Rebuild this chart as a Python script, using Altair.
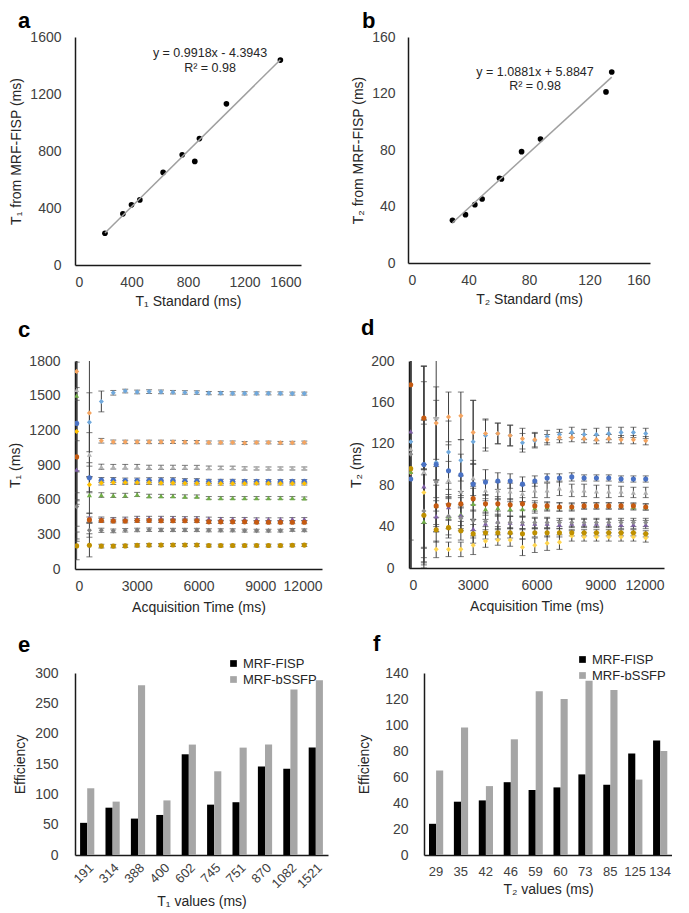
import altair as alt
import pandas as pd

FONT = "Liberation Sans"
EB = "#404040"

# ---------------- Panel a ----------------
a_std = [212, 339, 400, 459, 624, 759, 848, 881, 1072, 1454]
a_meas = [223, 359, 422, 457, 650, 774, 727, 887, 1131, 1438]
a_eq = ["y = 0.9918x - 4.3943", "R² = 0.98"]
a_eq_x = [956, 956]
a_eq_y = [1488, 1382]

# ---------------- Panel b ----------------
b_std = [29.4, 38.0, 44.2, 49.0, 60.5, 61.8, 75.1, 87.6, 130.9, 134.7]
b_meas = [30.2, 34.2, 41.3, 45.3, 60.0, 59.5, 78.8, 87.8, 121.1, 135.2]
b_eq = ["y = 1.0881x + 5.8847", "R² = 0.98"]
b_eq_x = [84, 84]
b_eq_y = [135, 125]

# ---------------- Panels c, d ----------------
TIMES = [80, 700, 1280, 1860, 2440, 3020, 3600, 4180, 4760, 5340,
         5920, 6500, 7080, 7660, 8240, 8820, 9400, 9980, 10560, 11140]
SERIES = ["s1", "s2", "s3", "s4", "s5", "s6", "s7", "s8", "s9", "s10"]
COLORS = ["#6FA8DC", "#F4A460", "#B0B0B0", "#4A72C4", "#FFC000",
          "#70AD47", "#7E5FA6", "#C55A11", "#7F7F7F", "#BF9000"]
SHAPES = ["diamond", "diamond", "triangle-up", "circle", "diamond",
          "triangle-up", "triangle-up", "circle", "diamond", "circle"]

c_vals = [
    [1260, 1270, 1450, 1525, 1540, 1532, 1535, 1533, 1530, 1528, 1527, 1522, 1522, 1520, 1520, 1520, 1520, 1520, 1518, 1518],
    [1710, 1350, 1110, 1100, 1100, 1100, 1100, 1100, 1100, 1098, 1098, 1095, 1095, 1095, 1090, 1095, 1095, 1092, 1093, 1095],
    [1550, 990, 885, 885, 885, 885, 880, 880, 880, 880, 880, 875, 875, 875, 870, 870, 870, 870, 870, 870],
    [1260, 790, 770, 770, 765, 765, 768, 768, 768, 762, 762, 758, 758, 758, 758, 758, 758, 758, 758, 758],
    [1190, 730, 745, 748, 748, 748, 748, 745, 745, 742, 742, 740, 740, 740, 740, 742, 742, 740, 740, 740],
    [1500, 640, 640, 637, 637, 645, 632, 632, 632, 628, 628, 615, 615, 615, 615, 615, 615, 615, 615, 612],
    [860, 445, 432, 430, 433, 438, 440, 440, 440, 438, 438, 435, 432, 432, 432, 430, 430, 430, 432, 432],
    [970, 425, 420, 415, 415, 420, 420, 418, 418, 418, 418, 408, 408, 408, 408, 405, 405, 405, 405, 405],
    [540, 335, 335, 330, 335, 338, 340, 338, 338, 338, 338, 335, 335, 335, 332, 332, 332, 332, 338, 335],
    [200, 205, 198, 198, 200, 205, 207, 207, 208, 208, 208, 203, 203, 203, 203, 203, 203, 203, 205, 207],
]
c_errs = [
    [700, 255, 90, 20, 16, 16, 16, 16, 15, 15, 15, 14, 14, 14, 14, 13, 13, 13, 13, 13],
    [600, 460, 20, 16, 15, 15, 15, 15, 14, 14, 14, 13, 13, 13, 13, 12, 12, 12, 12, 12],
    [700, 190, 22, 20, 20, 20, 18, 18, 18, 17, 17, 16, 15, 15, 14, 13, 13, 13, 13, 13],
    [600, 130, 22, 22, 22, 22, 22, 22, 22, 20, 20, 18, 18, 18, 16, 16, 16, 16, 16, 16],
    [600, 60, 18, 16, 16, 16, 16, 16, 16, 15, 15, 14, 14, 14, 13, 13, 13, 13, 13, 13],
    [900, 160, 20, 18, 18, 18, 15, 14, 14, 14, 13, 12, 12, 12, 12, 12, 12, 12, 12, 12],
    [600, 40, 18, 16, 16, 18, 16, 16, 15, 15, 15, 14, 14, 14, 14, 13, 13, 13, 13, 13],
    [600, 25, 18, 16, 16, 16, 15, 15, 15, 15, 15, 14, 14, 14, 14, 13, 13, 13, 13, 13],
    [300, 60, 18, 16, 15, 15, 15, 14, 14, 14, 14, 13, 13, 13, 13, 12, 12, 12, 12, 12],
    [120, 100, 16, 15, 14, 14, 14, 13, 13, 13, 13, 12, 12, 12, 12, 12, 12, 12, 12, 12],
]

d_vals = [
    [122, 100, 102, 112, 104, 122, 128, 130, 128, 121, 123, 127, 129, 131, 129, 129, 130, 131, 131, 130],
    [92, 145, 140, 146, 147, 131, 130, 130, 128, 125, 124, 124, 126, 126, 125, 124, 125, 124, 124, 123],
    [115, 93, 145, 85, 74, 87, 75, 75, 74, 72, 75, 75, 77, 75, 75, 74, 74, 74, 73, 73],
    [86, 100, 100, 94, 90, 81, 83, 84, 84, 81, 84, 87, 87, 88, 87, 87, 87, 86, 86, 86],
    [96, 73, 18, 18, 18, 22, 26, 27, 27, 20, 22, 24, 25, 31, 30, 30, 30, 30, 30, 29],
    [93, 45, 60, 50, 52, 62, 57, 58, 57, 57, 58, 59, 59, 59, 60, 60, 60, 60, 59, 59],
    [132, 79, 50, 59, 51, 38, 43, 45, 44, 43, 43, 43, 42, 43, 43, 43, 43, 42, 42, 42],
    [177, 145, 60, 61, 62, 67, 62, 62, 61, 62, 60, 60, 59, 59, 60, 60, 60, 60, 60, 59],
    [110, 55, 83, 50, 48, 46, 45, 44, 44, 44, 44, 44, 44, 44, 44, 44, 44, 44, 44, 44],
    [96, 51, 37, 39, 36, 33, 34, 34, 34, 33, 34, 34, 34, 34, 34, 34, 34, 34, 34, 33],
]
d_errs = [
    [150, 95, 60, 30, 20, 40, 15, 10, 10, 9, 7, 6, 5, 5, 5, 6, 6, 5, 5, 5],
    [150, 50, 35, 24, 23, 31, 14, 10, 10, 10, 7, 5, 5, 4, 4, 4, 4, 4, 4, 4],
    [150, 50, 60, 18, 15, 17, 10, 8, 8, 8, 7, 7, 7, 6, 6, 6, 6, 5, 5, 5],
    [150, 80, 45, 25, 20, 20, 12, 8, 7, 7, 5, 4, 4, 4, 3, 3, 3, 3, 3, 3],
    [150, 70, 8, 7, 7, 9, 6, 5, 6, 8, 7, 7, 7, 5, 4, 4, 4, 4, 4, 4],
    [150, 45, 25, 18, 16, 15, 10, 8, 7, 7, 5, 4, 4, 4, 3, 3, 3, 3, 3, 3],
    [150, 60, 15, 12, 10, 9, 8, 7, 6, 6, 5, 5, 4, 4, 4, 4, 4, 4, 4, 4],
    [150, 50, 20, 15, 12, 12, 8, 7, 6, 6, 5, 4, 4, 3, 3, 3, 3, 3, 3, 3],
    [150, 45, 15, 12, 10, 10, 8, 7, 6, 6, 5, 5, 4, 4, 4, 4, 4, 4, 4, 4],
    [150, 45, 12, 10, 9, 9, 6, 6, 5, 5, 4, 4, 4, 3, 3, 3, 3, 3, 3, 3],
]
d_colors = ["#6FA8DC", "#F4A460", "#B0B0B0", "#4A72C4", "#FFD54F",
            "#70AD47", "#7E5FA6", "#C55A11", "#8C8C8C", "#BF9000"]

# ---------------- Panels e, f ----------------
METHODS = ["MRF-FISP", "MRF-bSSFP"]
e_cats = ["191", "314", "388", "400", "602", "745", "751", "870", "1082", "1521"]
e_fisp = [53, 78, 60, 66, 166, 83, 87, 146, 142, 177]
e_bssfp = [110, 88, 280, 90, 182, 138, 177, 182, 273, 288]
f_cats = ["29", "35", "42", "46", "59", "60", "73", "85", "125", "134"]
f_fisp = [24, 41, 42, 56, 50, 52, 62, 54, 78, 88]
f_bssfp = [65, 98, 53, 89, 126, 120, 134, 127, 58, 80]


def letter_layer(letter, dx, dy):
    return alt.Chart(pd.DataFrame({"l": [letter]})).mark_text(
        font=FONT, fontSize=22, fontWeight="bold", align="left",
        baseline="alphabetic", color="black"
    ).encode(x=alt.value(dx), y=alt.value(dy), text="l:N")


def scatter_panel(xs, ys, eq, eqx, eqy, dom, vals, xtitle, ytitle, letter, lx, ly, w, h, lpad):
    df = pd.DataFrame({"x": xs, "y": ys})
    xsc = alt.Scale(domain=dom, nice=False)
    ysc = alt.Scale(domain=dom, nice=False)
    X = alt.X("x:Q", scale=xsc, axis=alt.Axis(values=vals, format="d", title=xtitle,
                                                labelPadding=10, titlePadding=5))
    Y = alt.Y("y:Q", scale=ysc, axis=alt.Axis(values=vals, format="d", title=ytitle,
                                                labelPadding=lpad, titlePadding=6))
    pts = alt.Chart(df).mark_circle(size=32, color="black", opacity=1).encode(x=X, y=Y)
    line = alt.Chart(df).transform_regression("x", "y").mark_line(
        color="#A0A0A0", strokeWidth=1.5).encode(x=X, y=Y)
    tdf = pd.DataFrame({"x": eqx, "y": eqy, "t": eq})
    txt = alt.Chart(tdf).mark_text(font=FONT, fontSize=12.5, color="#262626",
                                   baseline="middle").encode(x=X, y=Y, text="t:N")
    return alt.layer(pts, line, txt, letter_layer(letter, lx, ly)).properties(width=w, height=h)


def ts_panel(vals, errs, colors, ydom, yvals, ytitle, letter, lx, ly, w, h, lpad, tpad):
    rows = []
    for n, vs, es in zip(SERIES, vals, errs):
        for t, v, e in zip(TIMES, vs, es):
            rows.append({"s": n, "t": t, "v": v, "lo": v - e, "hi": v + e})
    df = pd.DataFrame(rows)
    xsc = alt.Scale(domain=[0, 12000], nice=False)
    ysc = alt.Scale(domain=ydom, nice=False)
    xax = alt.Axis(values=[0, 3000, 6000, 9000, 12000], format="d",
                   title="Acquisition Time (ms)", labelPadding=10, titlePadding=7)
    yax = alt.Axis(values=yvals, format="d", title=ytitle, labelPadding=lpad, titlePadding=tpad)
    X = alt.X("t:Q", scale=xsc, axis=xax)

    def Y(f):
        return alt.Y(f + ":Q", scale=ysc, axis=yax)

    base = alt.Chart(df)
    rule = base.mark_rule(clip=True, color=EB, strokeWidth=1).encode(x=X, y=Y("lo"), y2="hi:Q")
    cap1 = base.mark_tick(clip=True, color=EB, size=6, thickness=1, orient="horizontal").encode(x=X, y=Y("lo"))
    cap2 = base.mark_tick(clip=True, color=EB, size=6, thickness=1, orient="horizontal").encode(x=X, y=Y("hi"))
    pts = base.mark_point(filled=True, size=26, opacity=1, clip=True).encode(
        x=X, y=Y("v"),
        color=alt.Color("s:N", scale=alt.Scale(domain=SERIES, range=colors), legend=None),
        shape=alt.Shape("s:N", scale=alt.Scale(domain=SERIES, range=SHAPES), legend=None),
    )
    return alt.layer(rule, cap1, cap2, pts, letter_layer(letter, lx, ly)).properties(width=w, height=h)


def bar_panel(cats, fisp, bssfp, xtitle, ydom, yvals, angle, letter, lx, ly, legx, legy, w, h, lpad, tpad):
    n = len(cats)
    df = pd.DataFrame({"cat": cats * 2, "m": [METHODS[0]] * n + [METHODS[1]] * n,
                       "v": fisp + bssfp})
    bars = alt.Chart(df).mark_bar().encode(
        x=alt.X("cat:N", sort=cats, scale=alt.Scale(paddingInner=0.44, paddingOuter=0.2),
                axis=alt.Axis(title=xtitle, labelAngle=angle, labelFontSize=13,
                              labelPadding=6 if angle else 10, titlePadding=4)),
        xOffset=alt.XOffset("m:N", sort=METHODS),
        y=alt.Y("v:Q", scale=alt.Scale(domain=ydom, nice=False),
                axis=alt.Axis(values=yvals, format="d", title="Efficiency",
                              labelPadding=lpad, titlePadding=tpad)),
        color=alt.Color("m:N", sort=METHODS,
                        scale=alt.Scale(domain=METHODS, range=["#000000", "#A6A6A6"]),
                        legend=alt.Legend(title=None, orient="none", legendX=legx, legendY=legy,
                                          symbolType="square", symbolSize=45, symbolStrokeWidth=0,
                                          labelFont=FONT, labelFontSize=13, labelColor="#262626",
                                          rowPadding=2, padding=0, labelOffset=3)),
    )
    return alt.layer(bars, letter_layer(letter, lx, ly)).properties(width=w, height=h)


pa = scatter_panel(a_std, a_meas, a_eq, a_eq_x, a_eq_y, [0, 1600], [0, 400, 800, 1200, 1600],
                   "T₁ Standard (ms)", "T₁ from MRF-FISP (ms)", "a", -57, -9, 226, 228, 14)
pb = scatter_panel(b_std, b_meas, b_eq, b_eq_x, b_eq_y, [0, 160], [0, 40, 80, 120, 160],
                   "T₂ Standard (ms)", "T₂ from MRF-FISP (ms)", "b", -46, -9, 242, 226, 13)
pc = ts_panel(c_vals, c_errs, COLORS, [0, 1800], [0, 300, 600, 900, 1200, 1500, 1800],
              "T₁ (ms)", "c", -57, -24, 247, 208, 15, 6)
pd_ = ts_panel(d_vals, d_errs, d_colors, [0, 200], [0, 40, 80, 120, 160, 200],
               "T₂  (ms)", "d", -48, -26, 255, 207, 15, 7)
pe = bar_panel(e_cats, e_fisp, e_bssfp, "T₁ values (ms)", [0, 300], [0, 50, 100, 150, 200, 250, 300],
               -45, "e", -57, -21, 152, -16, 253, 182, 17, 7)
pf = bar_panel(f_cats, f_fisp, f_bssfp, "T₂ values (ms)", [0, 140], [0, 20, 40, 60, 80, 100, 120, 140],
               0, "f", -51, -22, 152, -20, 248, 182, 16, 13)

row1 = alt.hconcat(pa, pb, spacing=50).resolve_scale(color="independent", shape="independent")
row2 = alt.hconcat(pc, pd_, spacing=27).resolve_scale(color="independent", shape="independent")
row3 = alt.hconcat(pe, pf, spacing=29).resolve_scale(color="independent").resolve_legend(color="independent")

top = alt.vconcat(row1, row2, spacing=9).resolve_scale(color="independent", shape="independent")

chart = alt.vconcat(top, row3, spacing=19).resolve_scale(
    color="independent", shape="independent"
).resolve_legend(color="independent", shape="independent").configure_view(
    stroke=None
).configure_axis(
    grid=False, ticks=False, tickSize=0, labelFont=FONT, titleFont=FONT,
    labelFontSize=14, titleFontSize=14, labelColor="#404040", titleColor="#262626",
    titleFontWeight="normal", domainColor="#1a1a1a", domainWidth=1.5
).properties(padding={"left": 0, "top": 2, "right": 0, "bottom": 0}, background="white")

chart.save("out.html", embed_options={"renderer": "svg", "actions": False})
